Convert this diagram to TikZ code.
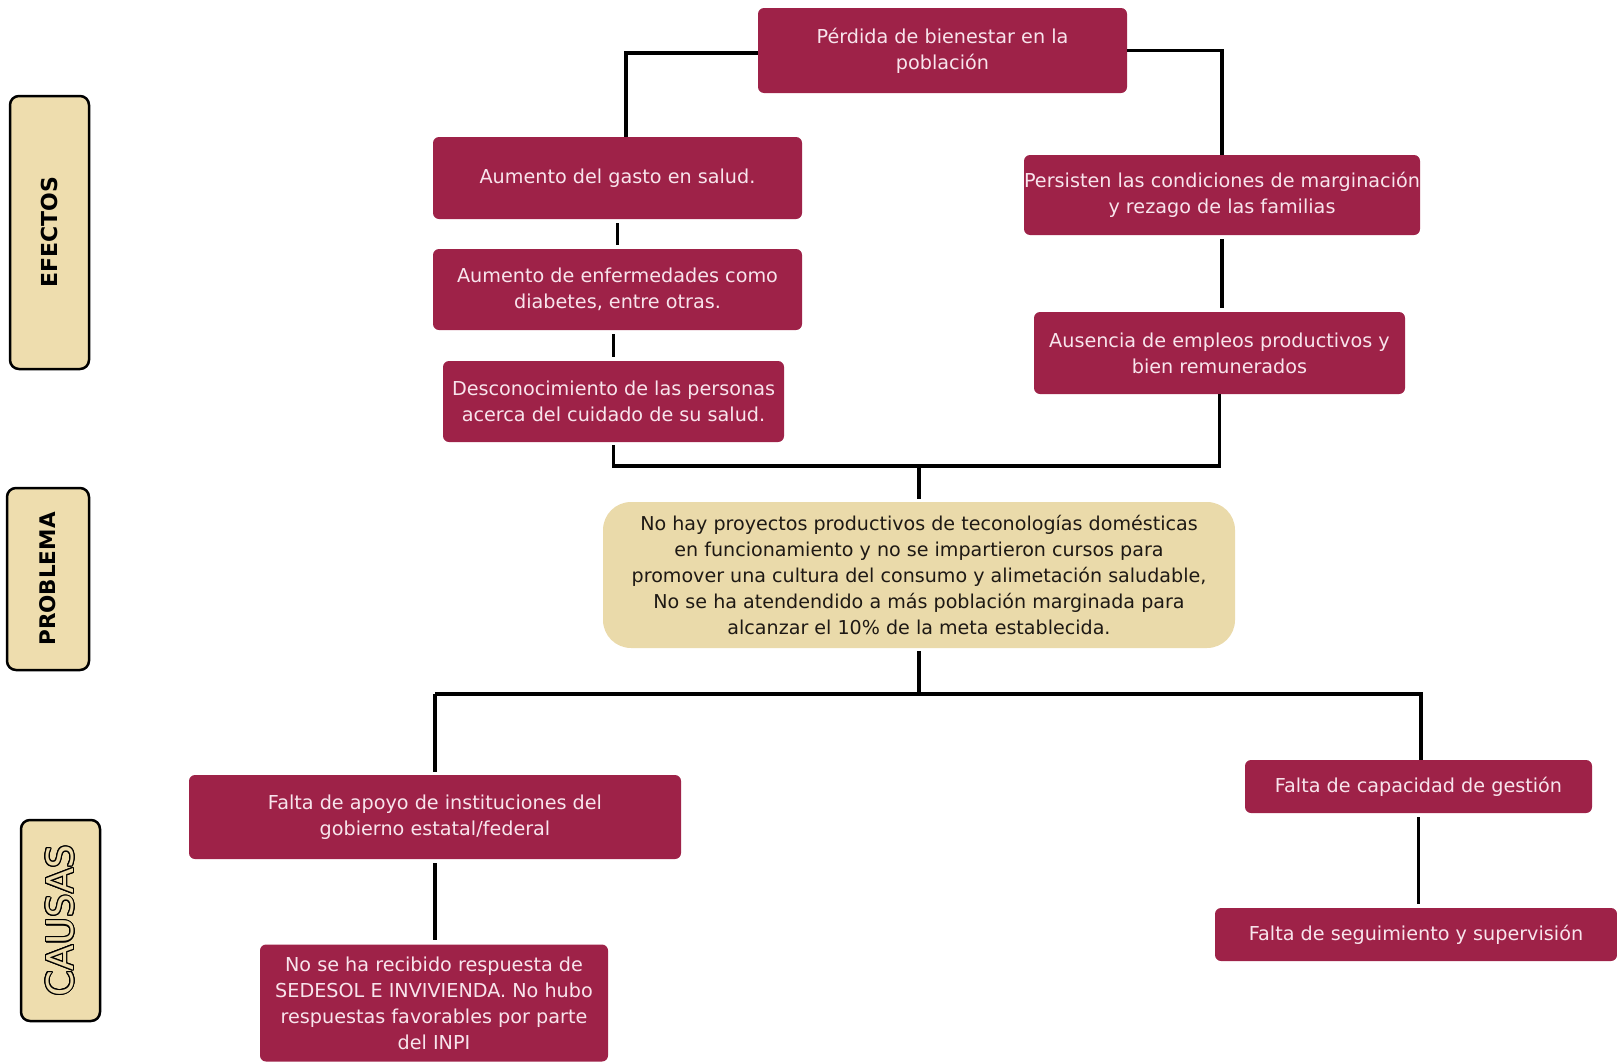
\documentclass[tikz,border=0pt]{standalone}
\usepackage{fontspec}
\setmainfont{DejaVu Sans}
\usepackage[copies]{contour}
\contourlength{1.1pt}
\usetikzlibrary{calc}
\definecolor{maroon}{RGB}{158,34,72}
\definecolor{boxtext}{RGB}{248,228,236}
\definecolor{tanfill}{RGB}{234,218,170}
\definecolor{labelfill}{RGB}{238,221,174}
\definecolor{probtext}{RGB}{30,25,20}
\begin{document}
\begin{tikzpicture}[x=1pt,y=-1pt,
  cbox/.style={fill=maroon, text=boxtext, rounded corners=6pt, align=center,
    inner sep=0pt, font=\fontsize{19.2}{26}\selectfont},
  probbox/.style={fill=tanfill, text=probtext, rounded corners=28pt, align=center,
    inner sep=0pt, font=\fontsize{19.1}{26.2}\selectfont},
  sidelab/.style={draw=black, line width=2.5pt, fill=labelfill, rounded corners=9pt,
    inner sep=0pt, rotate=90},
  link/.style={draw=black, line width=3.2pt},
  gap/.style={shorten <=4pt, shorten >=4pt},
]
\useasboundingbox (0,0) rectangle (1617,1063);

% side labels
\node[sidelab, minimum width=273pt, minimum height=79pt, font=\bfseries\fontsize{22}{22}\selectfont] (efectos) at (49.5,232.5) {EFECTOS};
\node[sidelab, minimum width=182pt, minimum height=82pt, font=\bfseries\fontsize{21.5}{22}\selectfont] (problema) at (48,579) {PROBLEMA};
\node[sidelab, minimum width=201pt, minimum height=79pt, font=\fontsize{37}{37}\selectfont] (causas) at (60.5,920.5) {\textcolor{labelfill}{\contour{black}{CAUSAS}}};

% effects
\node[cbox, minimum width=369pt, minimum height=85pt] (top) at (942.5,50.5) {Pérdida de bienestar en la\\población};
\node[cbox, minimum width=369pt, minimum height=82pt] (gasto) at (617.5,178) {Aumento del gasto en salud.};
\node[cbox, minimum width=369pt, minimum height=81pt] (enferm) at (617.5,289.5) {Aumento de enfermedades como\\diabetes, entre otras.};
\node[cbox, minimum width=341pt, minimum height=81pt] (descon) at (613.5,401.5) {Desconocimiento de las personas\\acerca del cuidado de su salud.};
\node[cbox, minimum width=396pt, minimum height=80pt] (persisten) at (1222,195) {Persisten las condiciones de marginación\\y rezago de las familias};
\node[cbox, minimum width=371pt, minimum height=82pt] (ausencia) at (1219.5,353) {Ausencia de empleos productivos y\\bien remunerados};

% problem
\node[probbox, minimum width=632pt, minimum height=146pt] (problem) at (919,575) {No hay proyectos productivos de teconologías domésticas\\
en funcionamiento y no se impartieron cursos para\\
promover una cultura del consumo y alimetación saludable,\\
No se ha atendendido a más población marginada para\\
alcanzar el 10\% de la meta establecida.};

% causes
\node[cbox, minimum width=492pt, minimum height=84pt] (apoyo) at (435,817) {Falta de apoyo de instituciones del\\gobierno estatal/federal};
\node[cbox, minimum width=348pt, minimum height=117pt] (inpi) at (434,1003) {No se ha recibido respuesta de\\SEDESOL E INVIVIENDA. No hubo\\respuestas favorables por parte\\del INPI};
\node[cbox, minimum width=347pt, minimum height=53pt] (capacidad) at (1418.5,786.5) {Falta de capacidad de gestión};
\node[cbox, minimum width=402pt, minimum height=53pt] (seguim) at (1416,934.5) {Falta de seguimiento y supervisión};

% connectors: effects
\coordinate (tl) at (626,53);
\draw[link] (top.west |- tl) -- (tl) -- (tl |- gasto.north);
\draw[link] (top.east) -| (persisten.north);
\draw[link, gap] (gasto.south) -- (enferm.north);
\draw[link, gap] (enferm.south -| descon.north) -- (descon.north);
\draw[link, gap] (persisten.south) -- (ausencia.north -| persisten.south);
\coordinate (ej) at (919,466);
\draw[link] ([yshift=-3pt]descon.south) -- (descon.south |- ej) -- (ej -| ausencia.south) -- (ausencia.south);
\draw[link, shorten >=3pt] (ej) -- (problem.north);

% connectors: causes
\coordinate (cj) at (919,694);
\draw[link, shorten <=3pt] (problem.south) -- (cj);
\draw[link, shorten >=3pt] (apoyo.north |- cj) -- (apoyo.north);
\draw[link] (apoyo.north |- cj) -- (cj -| 1421,0) -- (capacidad.north -| 1421,0);
\draw[link, gap] (apoyo.south) -- (inpi.north -| apoyo.south);
\draw[link, gap] (capacidad.south) -- (seguim.north -| capacidad.south);
\end{tikzpicture}
\end{document}
